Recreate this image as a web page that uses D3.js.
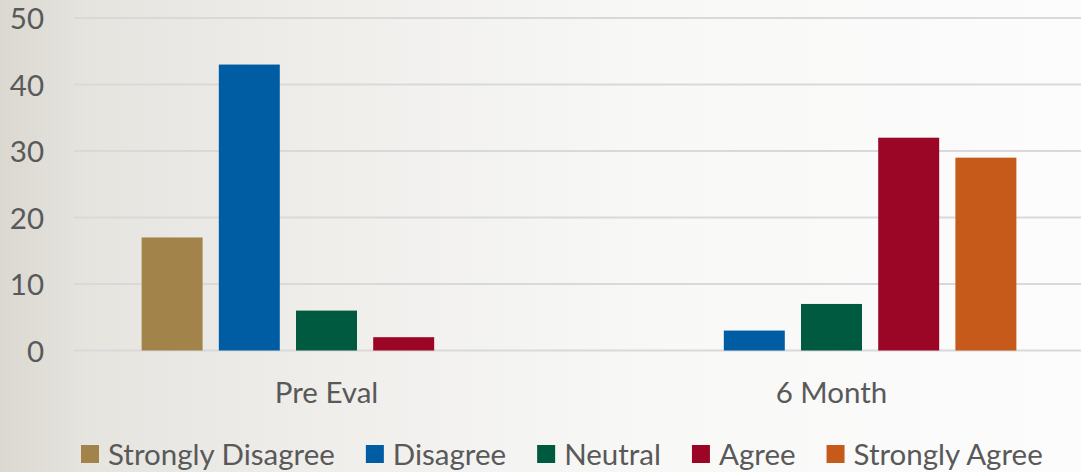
<!DOCTYPE html>
<html>
<head>
<meta charset="utf-8">
<script src="https://cdn.jsdelivr.net/npm/d3@7"></script>
<style>
  html, body { margin: 0; padding: 0; }
  body { width: 1081px; height: 472px; overflow: hidden; }
  text { font-family: Lato, "Open Sans", sans-serif; fill: #595959; }
</style>
</head>
<body>
<svg id="chart" width="1081" height="472"></svg>
<script>
// ---- data ----
const categories = ["Pre Eval", "6 Month"];
const seriesNames = ["Strongly Disagree", "Disagree", "Neutral", "Agree", "Strongly Agree"];
const seriesColors = ["#A2844A", "#005DA4", "#005A40", "#9C0626", "#C55A1B"];
const stronglyDisagree = [17, 0];
const disagree = [43, 3];
const neutral = [6, 7];
const agree = [2, 32];
const stronglyAgree = [0, 29];
const yTicks = [0, 10, 20, 30, 40, 50];

const seriesValues = [stronglyDisagree, disagree, neutral, agree, stronglyAgree];

const W = 1081, H = 472;
const FS = "29.5px";
const svg = d3.select("#chart");

// background gradient
const defs = svg.append("defs");
const grad = defs.append("linearGradient").attr("id", "bg")
  .attr("x1", "0%").attr("y1", "0%").attr("x2", "100%").attr("y2", "0%");
grad.append("stop").attr("offset", "0%").attr("stop-color", "#dbd8d1");
grad.append("stop").attr("offset", "8%").attr("stop-color", "#e6e4df");
grad.append("stop").attr("offset", "30%").attr("stop-color", "#efeeeb");
grad.append("stop").attr("offset", "60%").attr("stop-color", "#f8f8f7");
grad.append("stop").attr("offset", "100%").attr("stop-color", "#fcfcfc");
svg.append("rect").attr("width", W).attr("height", H).attr("fill", "url(#bg)");

const plotLeft = 74, plotRight = 1084;
const x0 = d3.scaleBand().domain(categories).range([plotLeft, plotRight]).padding(0);
const x1 = d3.scaleBand().domain(seriesNames).range([0, x0.bandwidth()])
  .paddingInner(0.21).paddingOuter(0.876);
const y = d3.scaleLinear().domain([0, 50]).range([350.5, 18]);

// gridlines
svg.append("g").selectAll("line").data(yTicks).join("line")
  .attr("x1", plotLeft).attr("x2", W)
  .attr("y1", d => y(d)).attr("y2", d => y(d))
  .attr("stroke", "#d9d9d9").attr("stroke-width", 2);

// y axis labels
const yAxis = d3.axisLeft(y).tickValues(yTicks).tickSize(0).tickPadding(0);
const gy = svg.append("g").attr("transform", "translate(44,0)").call(yAxis);
gy.select(".domain").remove();
gy.selectAll("text").style("font-size", FS).attr("fill", "#595959")
  .style("font-family", "Lato, 'Open Sans', sans-serif").attr("dy", "0.36em");

// bars
const groups = svg.append("g").selectAll("g").data(categories).join("g")
  .attr("transform", d => `translate(${x0(d)},0)`);
groups.selectAll("rect")
  .data((c, ci) => seriesNames.map((s, si) => ({ s, si, v: seriesValues[si][ci] })))
  .join("rect")
  .filter(d => d.v > 0)
  .attr("x", d => x1(d.s))
  .attr("width", x1.bandwidth())
  .attr("y", d => y(d.v))
  .attr("height", d => y(0) - y(d.v))
  .attr("fill", d => seriesColors[d.si]);

// category axis labels
const xAxis = d3.axisBottom(x0).tickSize(0).tickPadding(0);
const gx = svg.append("g").attr("transform", `translate(0,${y(0)})`).call(xAxis);
gx.select(".domain").remove();
gx.selectAll("text").style("font-size", FS).attr("fill", "#595959")
  .style("font-family", "Lato, 'Open Sans', sans-serif")
  .attr("dy", null).attr("y", 52.5);

// legend
const legend = svg.append("g").attr("transform", "translate(81,445)");
let lx = 0;
seriesNames.forEach((name, i) => {
  const item = legend.append("g").attr("transform", `translate(${lx},0)`);
  item.append("rect").attr("width", 18).attr("height", 18).attr("fill", seriesColors[i]);
  const t = item.append("text").attr("x", 27).attr("y", 19.5)
    .style("font-size", FS).text(name);
  lx += 27 + t.node().getComputedTextLength() + 31;
});
</script>
</body>
</html>
